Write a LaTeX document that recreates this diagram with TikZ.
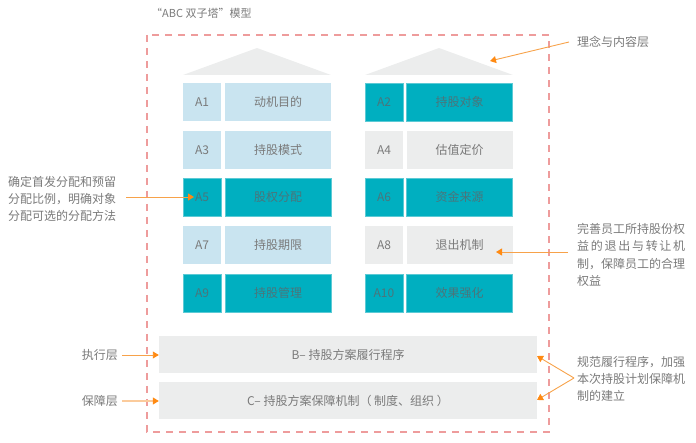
\documentclass[tikz,border=0pt]{standalone}
\usepackage{fontspec}
\setmainfont{Noto Sans CJK SC}
\usetikzlibrary{arrows.meta}
\definecolor{txt}{HTML}{7A7A7A}
\definecolor{tealc}{HTML}{00AFC0}
\definecolor{tealb}{HTML}{5CCAD5}
\definecolor{tealt}{HTML}{4A757B}
\definecolor{lblue}{HTML}{C9E4F0}
\definecolor{lgray}{HTML}{ECEDED}
\definecolor{dashc}{HTML}{EE9C9C}
\definecolor{arrc}{HTML}{F7A24A}
\definecolor{arrl}{HTML}{FBCB9C}
\definecolor{tipc}{HTML}{FF8A12}
\tikzset{
  cellbase/.style={rectangle, inner sep=0pt, minimum height=38pt, font=\fontsize{12}{14}\selectfont},
  idw/.style={minimum width=38pt},
  nmw/.style={minimum width=106pt},
  bluecell/.style={cellbase, fill=lblue, text=txt},
  graycell/.style={cellbase, fill=lgray, text=txt},
  tealcell/.style={cellbase, fill=tealc, draw=tealb, line width=0.8pt, text=tealt},
  wide/.style={rectangle, inner sep=0pt, minimum width=378pt, minimum height=37pt, fill=lgray, text=txt, font=\fontsize{12}{14}\selectfont},
  note/.style={inner sep=0pt, text=txt, align=left, font=\fontsize{12}{17.3}\selectfont},
  arr/.style={draw=arrc, line width=0.9pt, -{Triangle[length=6pt,width=7pt,color=tipc,fill=tipc]}},
  arrlight/.style={draw=arrl, line width=1.2pt, -{Triangle[length=6pt,width=7pt,color=tipc,fill=tipc]}},
}
\begin{document}
\begin{tikzpicture}[x=1pt,y=-1pt]
\useasboundingbox (0,0) rectangle (696,443);
% title
\node[inner sep=0pt, text=txt, anchor=west, font=\fontsize{11}{13}\selectfont] (title) at (151,13) {“ABC 双子塔”模型};
% dashed frame
\draw[dashc, line width=1.1pt, dash pattern=on 7pt off 6pt] (147,35) rectangle (549,432);
% roofs
\fill[lgray] (183,75) -- (257,48) -- (331,75) -- cycle;
\fill[lgray] (365,75) -- (439,48) -- (513,75) -- cycle;
% left column
\node[bluecell, idw] (a1) at (202,102) {A1};
\node[bluecell, nmw] (n1) at (278,102) {动机目的};
\node[bluecell, idw] (a3) at (202,150) {A3};
\node[bluecell, nmw] (n3) at (278,150) {持股模式};
\node[tealcell, idw] (a5) at (202,197) {A5};
\node[tealcell, nmw] (n5) at (278,197) {股权分配};
\node[bluecell, idw] (a7) at (202,245) {A7};
\node[bluecell, nmw] (n7) at (278,245) {持股期限};
\node[tealcell, idw] (a9) at (202,293) {A9};
\node[tealcell, nmw] (n9) at (278,293) {持股管理};
% right column
\node[tealcell, idw] (a2) at (384,102) {A2};
\node[tealcell, nmw] (n2) at (459.5,102) {持股对象};
\node[graycell, idw] (a4) at (384,150) {A4};
\node[graycell, nmw] (n4) at (459.5,150) {估值定价};
\node[tealcell, idw] (a6) at (384,197) {A6};
\node[tealcell, nmw] (n6) at (459.5,197) {资金来源};
\node[graycell, idw] (a8) at (384,245) {A8};
\node[graycell, nmw] (n8) at (459.5,245) {退出机制};
\node[tealcell, idw] (a10) at (384,293) {A10};
\node[tealcell, nmw] (n10) at (459.5,293) {效果强化};
% wide boxes
\node[wide] (b) at (348,354.5) {B– 持股方案履行程序};
\node[wide] (c) at (348,400.5) {C– 持股方案保障机制（ 制度、组织 ）};
% labels
\node[note, anchor=west] (top) at (577,42) {理念与内容层};
\node[note, anchor=west] (left) at (8,199) {确定首发分配和预留\\分配比例，明确对象\\分配可选的分配方法};
\node[note, anchor=west] (right) at (577,255) {完善员工所持股份权\\\hbox to 108pt{益\hfill 的\hfill 退\hfill 出\hfill 与\hfill 转\hfill 让\hfill 机}\\制，保障员工的合理\\权益};
\node[note, anchor=west] (br) at (577,379) {规范履行程序，加强\\本次持股计划保障机\\制的建立};
\node[note, anchor=east] (exe) at (118,355) {执行层};
\node[note, anchor=east] (gua) at (118,401) {保障层};
% coordinates
\coordinate (topS) at (569,42);
\coordinate (topE) at (490,61);
\coordinate (leftS) at (126,197);
\coordinate (leftE) at (194,197);
\coordinate (rightS) at (568,252);
\coordinate (rightE) at (496,252);
\coordinate (brS) at (574,378);
\coordinate (bE) at (537,356);
\coordinate (cE) at (537,400);
\coordinate (exeS) at (122,355);
\coordinate (guaS) at (122,401);
% arrows
\draw[arr] (topS) -- (topE);
\draw[arr] (leftS) -- (leftE);
\draw[arr] (rightS) -- (rightE);
\draw[arr] (brS) -- (bE);
\draw[arr] (brS) -- (cE);
\draw[arr] (exeS) -- (b.west |- exeS);
\draw[arrlight] (guaS) -- (c.west |- guaS);
\end{tikzpicture}
\end{document}
